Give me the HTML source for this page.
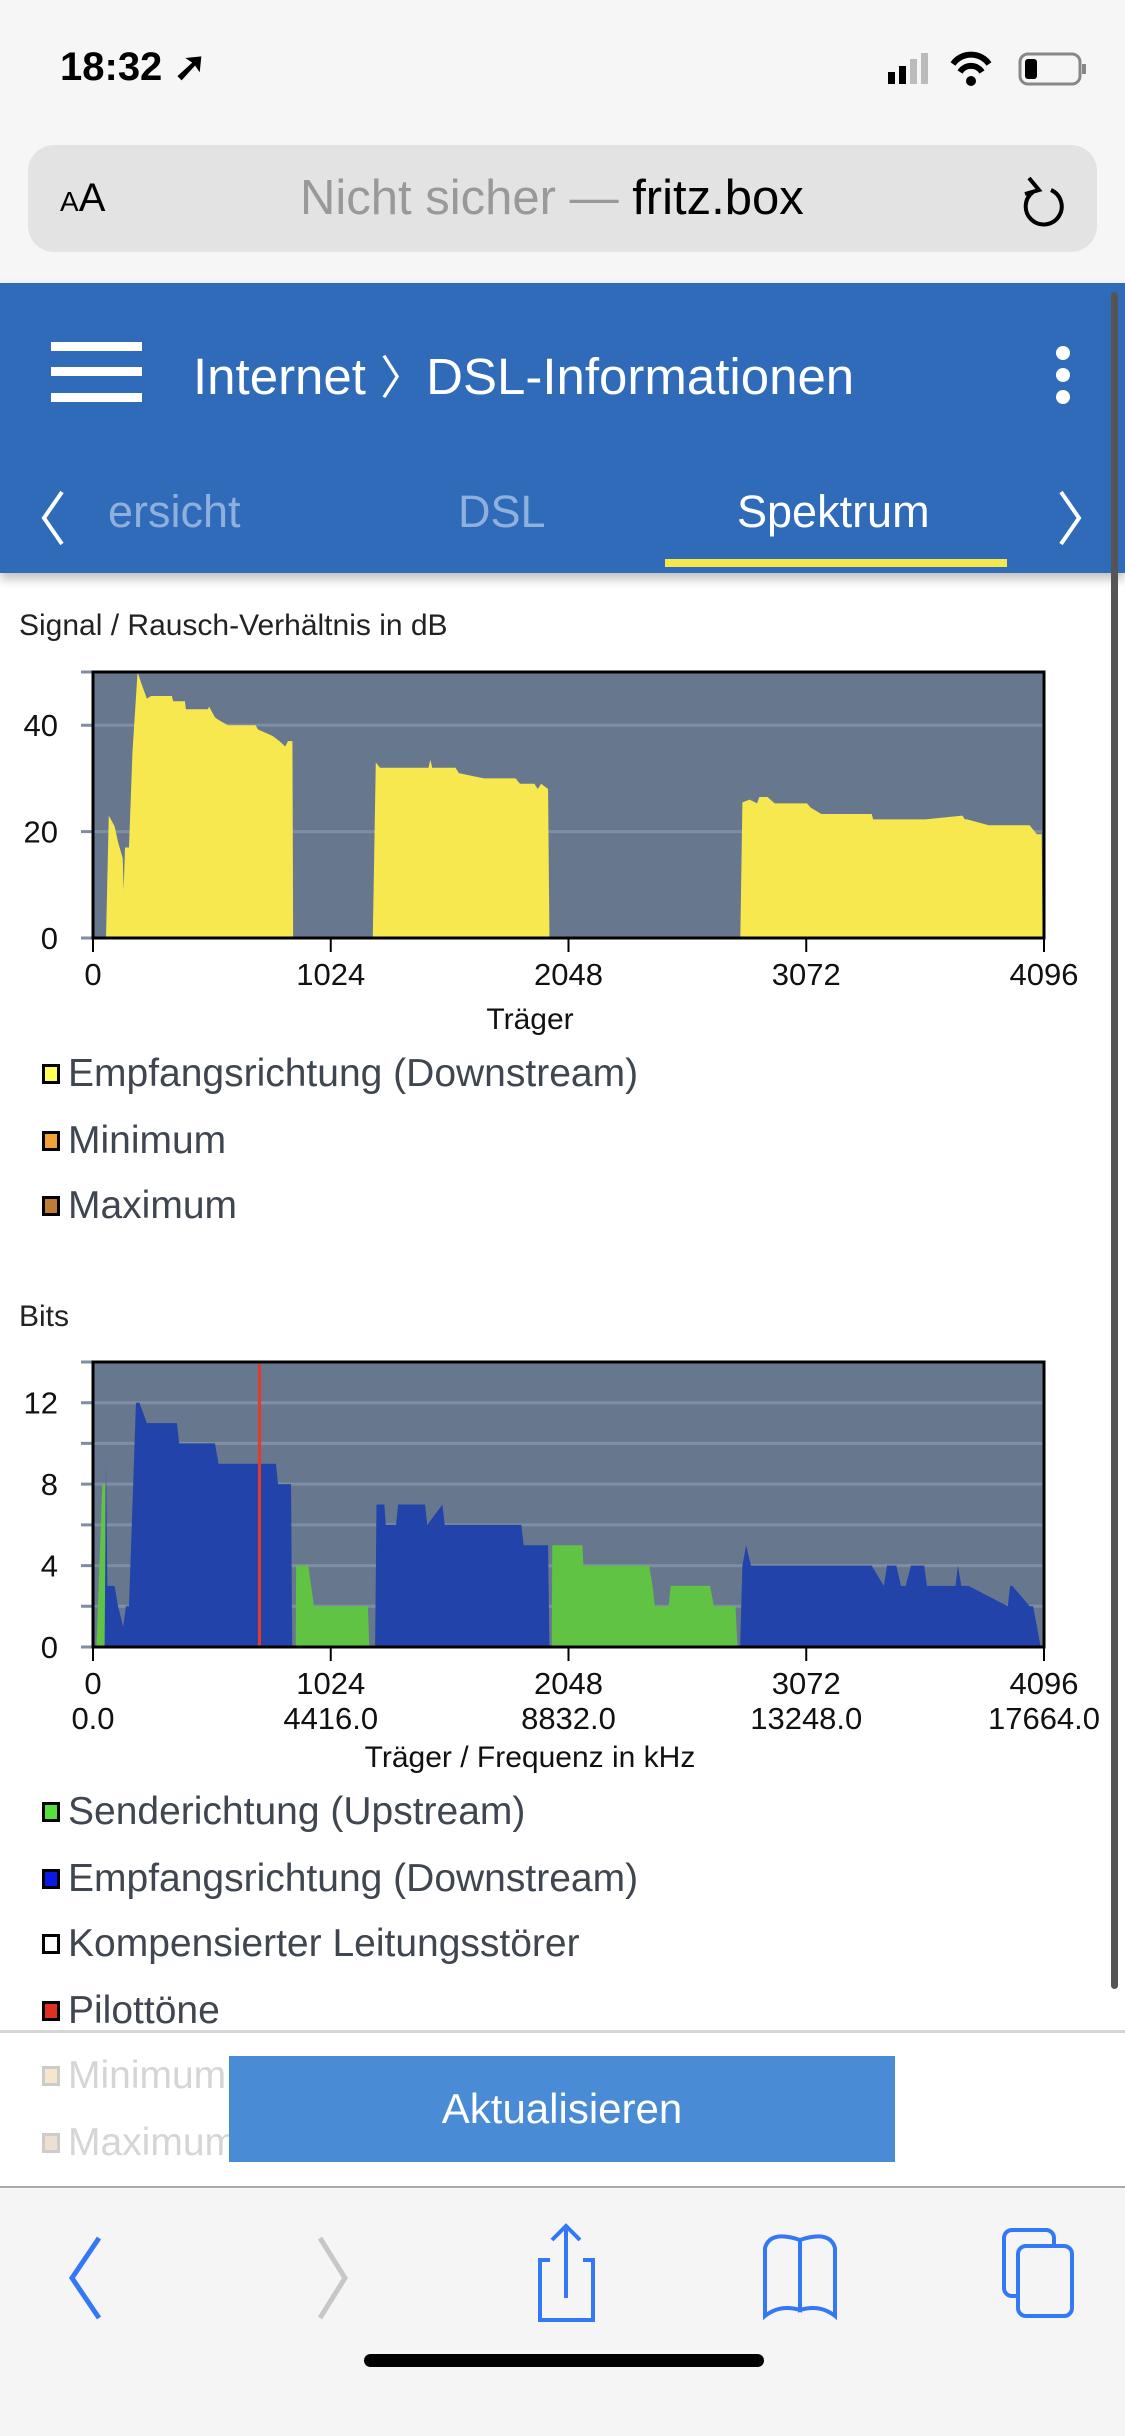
<!DOCTYPE html>
<html><head><meta charset="utf-8">
<style>
*{margin:0;padding:0;box-sizing:border-box}
body{width:1125px;height:2436px;position:relative;overflow:hidden;background:#fff;font-family:"Liberation Sans",sans-serif}
.abs{position:absolute}
.leg{position:absolute;left:42px;font-size:39px;color:#3f4650;display:flex;align-items:center;white-space:nowrap}
.leg i{display:inline-block;width:18px;height:20px;border:3px solid #000;margin-right:8px}
</style></head><body>
<div class="abs" style="left:0;top:0;width:1125px;height:283px;background:#f6f6f6"></div>
<div class="abs" style="left:60px;top:44px;font-size:40px;font-weight:bold;color:#000">18:32 ➚</div>
<svg class="abs" style="left:880px;top:50px" width="210" height="40">
<rect x="8" y="22" width="7" height="12" fill="#000"/><rect x="19" y="16" width="7" height="18" fill="#000"/><rect x="30" y="9" width="7" height="25" fill="#bbb"/><rect x="41" y="3" width="7" height="31" fill="#bbb"/>
<path d="M73 14 A22 22 0 0 1 109 14" stroke="#000" stroke-width="6" fill="none"/><path d="M80 22 A13 13 0 0 1 102 22" stroke="#000" stroke-width="6" fill="none"/><circle cx="91" cy="31" r="5" fill="#000"/>
<rect x="140" y="4" width="60" height="30" rx="8" fill="none" stroke="#888" stroke-width="3"/><rect x="145" y="9" width="12" height="20" rx="3" fill="#000"/><rect x="202" y="14" width="4" height="10" fill="#888"/></svg>
<div class="abs" style="left:28px;top:145px;width:1069px;height:107px;background:#e3e3e3;border-radius:26px"></div>
<div class="abs" style="left:60px;top:176px;font-size:40px;color:#000"><span style="font-size:28px">A</span>A</div>
<div class="abs" style="left:300px;top:170px;font-size:49px;color:#999">Nicht sicher — <span style="color:#000">fritz.box</span></div>
<svg class="abs" style="left:1015px;top:170px" width="50" height="60"><path d="M36 20 A18 18 0 1 1 18 22" fill="none" stroke="#000" stroke-width="4"/><path d="M14 8 L24 20 L10 24" fill="none" stroke="#000" stroke-width="4"/></svg>
<div class="abs" style="left:0;top:283px;width:1125px;height:290px;background:#2f6bb8;box-shadow:0 6px 10px rgba(0,0,0,.25)"></div>
<div class="abs" style="left:51px;top:342px;width:91px;height:60px;border-top:9px solid #fff;border-bottom:9px solid #fff"><div style="margin-top:16px;height:9px;background:#fff"></div></div>
<div class="abs" style="left:193px;top:342px;font-size:51px;color:#fff;white-space:nowrap">Internet <span style="font-size:46px">〉</span>DSL-Informationen</div>
<svg class="abs" style="left:1053px;top:345px" width="20" height="60"><circle cx="10" cy="8" r="7" fill="#fff"/><circle cx="10" cy="30" r="7" fill="#fff"/><circle cx="10" cy="52" r="7" fill="#fff"/></svg>
<svg class="abs" style="left:38px;top:490px" width="30" height="56"><path d="M24 2 L6 28 L24 54" stroke="#fff" stroke-width="4" fill="none"/></svg>
<div class="abs" style="left:108px;top:486px;font-size:45px;color:#8fb0dc">ersicht</div>
<div class="abs" style="left:458px;top:486px;font-size:45px;color:#8fb0dc">DSL</div>
<div class="abs" style="left:737px;top:486px;font-size:45px;color:#fff">Spektrum</div>
<div class="abs" style="left:665px;top:559px;width:342px;height:8px;background:#f6e84a"></div>
<svg class="abs" style="left:1055px;top:490px" width="30" height="56"><path d="M6 2 L24 28 L6 54" stroke="#fff" stroke-width="4" fill="none"/></svg>
<div class="abs" style="left:1111px;top:292px;width:7px;height:1697px;background:#555;border-radius:4px"></div>

<svg id="charts" class="abs" style="left:0;top:0" width="1125" height="2436"></svg>

<div class="abs" style="left:19px;top:609px;font-size:30px;color:#222">Signal / Rausch-Verhältnis in dB</div>
<div class="leg" style="top:1052px"><i style="background:#ffff55"></i>Empfangsrichtung (Downstream)</div>
<div class="leg" style="top:1119px"><i style="background:#f3a23a"></i>Minimum</div>
<div class="leg" style="top:1184px"><i style="background:#c07c35"></i>Maximum</div>
<div class="abs" style="left:19px;top:1300px;font-size:30px;color:#222">Bits</div>
<div class="leg" style="top:1790px"><i style="background:#55e040"></i>Senderichtung (Upstream)</div>
<div class="leg" style="top:1857px"><i style="background:#0a18e8"></i>Empfangsrichtung (Downstream)</div>
<div class="leg" style="top:1922px"><i style="background:#fff"></i>Kompensierter Leitungsstörer</div>
<div class="leg" style="top:1989px"><i style="background:#e03020"></i>Pilottöne</div>
<div class="abs" style="left:0;top:2030px;width:1125px;height:157px;background:#fff;border-top:3px solid #d5d5d5"></div>
<div class="leg" style="top:2054px;color:#d5d5d5"><i style="background:#f5e6cc;border-color:#ccc"></i>Minimum</div>
<div class="leg" style="top:2121px;color:#d5d5d5"><i style="background:#eee0d0;border-color:#ccc"></i>Maximum</div>
<div class="abs" style="left:229px;top:2056px;width:666px;height:106px;background:#4a8bd6;color:#fff;font-size:42px;display:flex;align-items:center;justify-content:center">Aktualisieren</div>
<div class="abs" style="left:0;top:2186px;width:1125px;height:250px;background:#f5f5f5;border-top:2px solid #aaa"></div>
<svg class="abs" style="left:0;top:2220px" width="1125" height="120">
<path d="M99 18 L72 58 L99 98" stroke="#3478f6" stroke-width="5" fill="none"/>
<path d="M320 18 L345 58 L320 98" stroke="#c7c7c7" stroke-width="5" fill="none"/>
<g fill="none" stroke="#3478f6" stroke-width="4"><path d="M550 40 H540 V100 H593 V40 H583"/><path d="M566 6 V78 M552 20 L566 6 L580 20"/></g>
<g fill="none" stroke="#3478f6" stroke-width="4"><path d="M765 96 V28 Q770 10 800 20 V90 Q780 84 765 96 Z"/><path d="M835 96 V28 Q830 10 800 20 V90 Q820 84 835 96 Z"/></g>
<g fill="none" stroke="#3478f6" stroke-width="4"><rect x="1004" y="10" width="50" height="66" rx="8"/><rect x="1018" y="26" width="54" height="70" rx="8" fill="#f5f5f5"/></g>
</svg>
<div class="abs" style="left:364px;top:2354px;width:400px;height:13px;background:#000;border-radius:7px"></div>

<script>
// SNR chart data
const xTicks = [0, 1024, 2048, 3072, 4096];
const freqTicks = ["0.0", "4416.0", "8832.0", "13248.0", "17664.0"];
const snrYTicks = [0, 20, 40];
const snrCarriers = [56,68,93,108,128,132,138,142,155,170,192,207,232,250,340,345,396,400,495,500,525,540,581,700,711,773,803,828,840,859,862,
 1205,1218,1236,1445,1453,1461,1561,1576,1629,1685,1820,1839,1901,1916,1930,1960,1966,
 2788,2797,2828,2860,2870,2905,2936,3075,3091,3137,3354,3360,3585,3745,3755,3765,3858,4034,4065,4086,4090];
const snrValues = [0,23,21,18,15,9,17,17,17,35,50,48,45,45.5,45.5,44.5,44.5,43,43,43.5,41.5,41,40,40,39.2,38,37,36,37,37,0,
 0,33,32,32,33.5,32,32,31,30.5,30,30,29,29,28,29,28,0,
 0,25.5,26,25.3,26.5,26.5,25.3,25.3,24.5,23.3,23.3,22.3,22.3,23,22.3,22.3,21.2,21.2,19.5,19.5,0];
// Bits chart data
const bitsYTicks = [0, 4, 8, 12];
const bitsGrid = [2, 4, 6, 8, 10, 12];
const upCarriers = [15,40,52,56, 873,875,927,952,1184,1190, 1976,1978,2108,2112,2395,2410,2420,2479,2488,2658,2674,2767,2776];
const upValues   = [0,8,8,0, 0,4,4,2,2,0, 0,5,5,4,4,3,2,2,3,3,2,2,0];
const downCarriers = [50,56,62,93,108,130,142,155,185,200,232,362,371,525,541,788,797,853,858,
 1215,1221,1255,1261,1305,1314,1430,1440,1505,1515,1845,1855,1960,1966,
 2787,2797,2813,2834,3354,3406,3420,3460,3480,3500,3523,3580,3592,3715,3725,3740,3771,3940,3950,3960,4034,4049,4082,4088];
const downValues = [0,9,3,3,2,1,2,2,12,12,11,11,10,10,9,9,8,8,0,
 0,7,7,6,6,7,7,6,7,6,6,5,5,0,
 0,4,5,4,4,3,4,4,3,3,4,4,3,3,4,3,3,2,3,3,2,2,0];
const pilotCarriers = [717];

const NS = "http://www.w3.org/2000/svg";
const svg = document.getElementById('charts');
const PL = 93, PR = 1044;
function xs(c){ return PL + c / 4096 * (PR - PL); }
function y1(v){ return 938 - v / 50 * 266; }
function y2(b){ return 1647 - b / 14 * 285; }
function mk(tag, attrs){ const e = document.createElementNS(NS, tag); for (const k in attrs) e.setAttribute(k, attrs[k]); svg.appendChild(e); return e; }
function area(cs, vs, ys, fill, name){
  let d = 'M' + xs(cs[0]) + ' ' + ys(0);
  for (let i = 0; i < cs.length; i++) d += ' L' + xs(cs[i]) + ' ' + ys(vs[i]);
  d += ' L' + xs(cs[cs.length-1]) + ' ' + ys(0) + ' Z';
  const p = mk('path', {d: d, fill: fill});
  
  
}
function chart(top, bottom, ys, gridVals, yLabels, fills, name){
  const bg = mk('rect', {x: PL, y: top, width: PR - PL, height: bottom - top, fill: '#67788e'});
  
  
  gridVals.forEach(v => {
    const g = mk('line', {x1: PL - 12, x2: PR, y1: ys(v), y2: ys(v), stroke: '#7f8ea2', 'stroke-width': 3});
    
    
  });
  mk('line', {x1: PL - 12, x2: PL, y1: top, y2: top, stroke: '#7f8ea2', 'stroke-width': 3});
  mk('line', {x1: PL - 12, x2: PL, y1: bottom, y2: bottom, stroke: '#7f8ea2', 'stroke-width': 3});
  fills();
  mk('rect', {x: PL, y: top, width: PR - PL, height: bottom - top, fill: 'none', stroke: '#000', 'stroke-width': 3});
  yLabels.forEach(v => {
    const t = mk('text', {x: 58, y: ys(v) + 11, 'text-anchor': 'end', 'font-size': 31, fill: '#111', 'font-family': 'Liberation Sans, sans-serif'});
    t.textContent = v;
    
    
  });
  xTicks.forEach(c => {
    mk('line', {x1: xs(c), x2: xs(c), y1: bottom, y2: bottom + 14, stroke: '#000', 'stroke-width': 2});
    const t = mk('text', {x: xs(c), y: bottom + 47, 'text-anchor': 'middle', 'font-size': 31, fill: '#111', 'font-family': 'Liberation Sans, sans-serif'});
    t.textContent = c;
    
    
  });
}
chart(672, 938, y1, [20, 40], snrYTicks, () => {
  area(snrCarriers, snrValues, y1, '#f8e84f', 'snr-downstream-area');
}, 'snr');
let t = mk('text', {x: 530, y: 1029, 'text-anchor': 'middle', 'font-size': 30, fill: '#111', 'font-family': 'Liberation Sans, sans-serif'});
t.textContent = 'Träger';



chart(1362, 1647, y2, bitsGrid, bitsYTicks, () => {
  area(upCarriers, upValues, y2, '#60c344', 'bits-upstream-area');
  area(downCarriers, downValues, y2, '#2244aa', 'bits-downstream-area');
  pilotCarriers.forEach(c => {
    const l = mk('line', {x1: xs(c), x2: xs(c), y1: 1364, y2: 1647, stroke: '#e8382a', 'stroke-width': 3});
    
    
  });
}, 'bits');
xTicks.forEach((c, i) => {
  const f = mk('text', {x: xs(c), y: 1729, 'text-anchor': 'middle', 'font-size': 31, fill: '#111', 'font-family': 'Liberation Sans, sans-serif'});
  f.textContent = freqTicks[i];
  
  
});
t = mk('text', {x: 530, y: 1767, 'text-anchor': 'middle', 'font-size': 30, fill: '#111', 'font-family': 'Liberation Sans, sans-serif'});
t.textContent = 'Träger / Frequenz in kHz';


</script>
</body></html>
